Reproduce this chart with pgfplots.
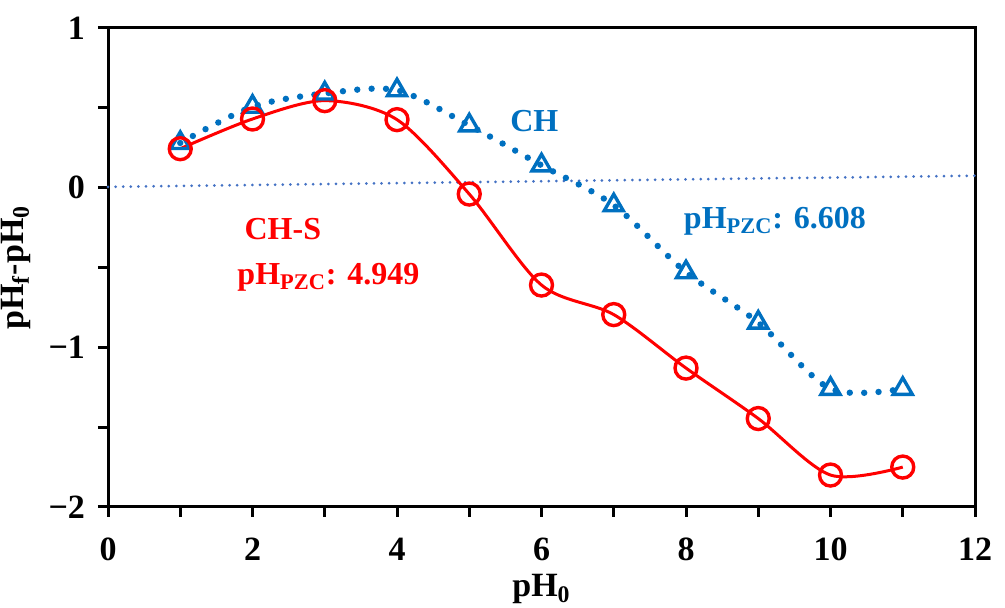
\documentclass[border=0pt]{standalone}
\usepackage{pgfplots}
\pgfplotsset{compat=1.18}
\usepackage{fontspec}
\setmainfont{Liberation Serif}
\definecolor{chblue}{RGB}{0,112,192}
\definecolor{zeroblue}{RGB}{68,114,196}
\definecolor{chsred}{RGB}{255,0,0}
\begin{document}
\begin{tikzpicture}
\begin{axis}[
  scale only axis, width=433.5pt, height=239.5pt,
  xmin=0, xmax=12, ymin=-2, ymax=1,
  xtick={0,2,...,12}, minor xtick={1,3,...,11},
  ytick={-2,-1,0,1}, yticklabels={\textminus2,\textminus1,0,1},
  minor ytick={-1.5,-0.5,0.5},
  tick align=outside, tick pos=left,
  major tick length=5pt, minor tick length=5pt,
  every tick/.style={black, line width=1.5pt},
  axis line style={line width=1.5pt},
  /pgf/number format/assume math mode=true,
  tick label style={font=\fontsize{17}{20}\selectfont\bfseries},
  yticklabel style={xshift=-3pt},
  xticklabel style={yshift=-7pt},
  label style={font=\fontsize{17}{20}\selectfont\bfseries},
  xlabel={pH\textsubscript{0}},
  xlabel style={yshift=0pt},
  ylabel={pH\textsubscript{f}-pH\textsubscript{0}},
  ylabel style={yshift=2pt},
  clip=false,
]
% zero reference line
\addplot[zeroblue, line width=1.5pt, line cap=round, dash pattern=on 0pt off 3.8pt]
  coordinates {(0,0.005) (12,0.075)};
% CH
\addplot[chblue, line width=3.2pt, line cap=round, dash pattern=on 0pt off 7.2pt, smooth,
  mark=triangle, mark size=5.5pt, mark options={solid, line width=1.7pt, line cap=butt}]
  coordinates {(1,0.28) (2,0.507) (3,0.59) (4,0.61) (5,0.39) (6,0.14) (7,-0.11) (8,-0.53) (9,-0.845) (10,-1.26) (11,-1.26)};
% CH-S
\addplot[chsred, line width=1.5pt, smooth,
  mark=o, mark size=5.5pt, mark options={solid, line width=1.7pt}]
  coordinates {(1,0.244) (2,0.43) (3,0.545) (4,0.426) (5,-0.04) (6,-0.61) (7,-0.795) (8,-1.13) (9,-1.446) (10,-1.80) (11,-1.75)};
\node[chblue, font=\fontsize{16}{19}\selectfont\bfseries] at (axis cs:5.90,0.42) {CH};
\node[chblue, font=\fontsize{16}{19}\selectfont\bfseries] at (axis cs:9.23,-0.21) {pH\textsubscript{PZC}: 6.608};
\node[chsred, font=\fontsize{16}{19}\selectfont\bfseries] at (axis cs:2.42,-0.26) {CH-S};
\node[chsred, font=\fontsize{16}{19}\selectfont\bfseries] at (axis cs:3.05,-0.56) {pH\textsubscript{PZC}: 4.949};
\end{axis}
\pgfresetboundingbox
\path ([shift={(-54pt,-50.5pt)}]current axis.south west) rectangle ([shift={(15pt,14pt)}]current axis.north east);
\end{tikzpicture}
\end{document}
